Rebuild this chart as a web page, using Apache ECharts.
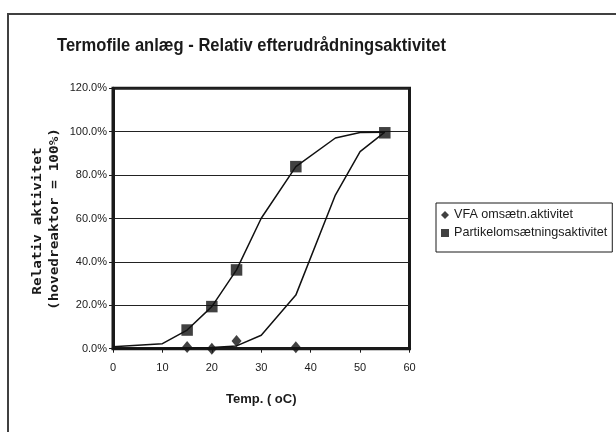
<!DOCTYPE html>
<html>
<head>
<meta charset="utf-8">
<script src="https://cdn.jsdelivr.net/npm/echarts@6/dist/echarts.min.js"></script>
<style>
  html, body { margin: 0; padding: 0; background: #fff; }
  #chart { width: 616px; height: 432px; }
</style>
</head>
<body>
<div id="chart"></div>
<script>
// Temperatures (°C) at which the two activity curves are defined
const curveTemps = [0, 10, 15, 20, 25, 30, 37, 45, 50, 55];
// Particle turnover curve (% of main reactor activity)
const partikelCurve = [0.9, 2.3, 8.6, 19.4, 36.3, 60.1, 83.9, 97.1, 99.6, 99.8];
// VFA turnover curve (% of main reactor activity)
const vfaCurve = [0, 0, 0.2, 0.6, 1.3, 6.2, 24.7, 70.8, 90.8, 99.8];

// Measured particle turnover activity
const partikelTemps = [15, 20, 25, 37, 55];
const partikelValues = [8.6, 19.4, 36.3, 83.9, 99.5];

// Measured VFA turnover activity
const vfaTemps = [15, 20, 25, 37];
const vfaValues = [0.8, 0, 3.5, 0.7];

// Axis ticks
const xTicks = [0, 10, 20, 30, 40, 50, 60];
const yTicks = [0, 20, 40, 60, 80, 100, 120];

const titleText = 'Termofile anlæg - Relativ efterudrådningsaktivitet';
const yNameLine1 = 'Relativ aktivitet';
const yNameLine2 = '(hovedreaktor = 100%)';
const xName = 'Temp. ( oC)';
const vfaName = 'VFA omsætn.aktivitet';
const partikelName = 'Partikelomsætningsaktivitet';

const pairs = (xs, ys) => xs.map((x, i) => [x, ys[i]]);
const FONT = 'Liberation Sans, Arial, sans-serif';

const chart = echarts.init(document.getElementById('chart'), null, { renderer: 'canvas' });

chart.setOption({
  animation: false,
  backgroundColor: '#fff',
  textStyle: { fontFamily: FONT },
  grid: {
    left: 113, right: 206.5, top: 88.3, bottom: 83.3,
    show: true, borderColor: '#1a1a1a', borderWidth: 3,
    containLabel: false
  },
  xAxis: {
    type: 'value',
    min: xTicks[0], max: xTicks[xTicks.length - 1], interval: 10,
    name: xName,
    nameLocation: 'middle',
    nameGap: 44,
    nameTextStyle: { fontFamily: FONT, fontWeight: 'bold', fontSize: 13, color: '#1a1a1a' },
    axisLine: { show: true, onZero: false, lineStyle: { color: '#1a1a1a', width: 3 } },
    axisTick: { show: true, inside: false, length: 4, lineStyle: { color: '#1a1a1a', width: 1 } },
    axisLabel: { fontFamily: FONT, fontSize: 11, color: '#1a1a1a', margin: 14 },
    splitLine: { show: false }
  },
  yAxis: {
    type: 'value',
    min: yTicks[0], max: yTicks[yTicks.length - 1], interval: 20,
    axisLine: { show: true, lineStyle: { color: '#1a1a1a', width: 3 } },
    axisTick: { show: true, inside: false, length: 4, lineStyle: { color: '#1a1a1a', width: 1 } },
    axisLabel: {
      fontFamily: FONT, fontSize: 11, color: '#1a1a1a', margin: 6,
      formatter: v => v.toFixed(1) + '%'
    },
    splitLine: { show: true, lineStyle: { color: '#222', width: 1 } }
  },
  legend: {
    orient: 'vertical',
    left: 436, top: 203,
    padding: [5, 5, 12, 5],
    itemGap: 4,
    itemWidth: 8, itemHeight: 8,
    borderColor: '#1a1a1a', borderWidth: 1,
    selectedMode: false,
    textStyle: { fontFamily: FONT, fontSize: 12.6, color: '#1a1a1a', lineHeight: 14 },
    data: [
      { name: vfaName, icon: 'diamond' },
      { name: partikelName, icon: 'rect' }
    ]
  },
  graphic: [
    {
      type: 'rect', silent: true, z: 0,
      shape: { x: 8, y: 14, width: 700, height: 500 },
      style: { fill: 'none', stroke: '#404040', lineWidth: 2 }
    },
    {
      type: 'text', silent: true,
      x: 57, y: 46, scaleX: 0.92,
      style: {
        text: titleText, fill: '#1a1a1a',
        font: 'bold 18px ' + FONT,
        align: 'left', verticalAlign: 'middle'
      }
    },
    {
      type: 'text', silent: true,
      x: 38, y: 221, rotation: Math.PI / 2, scaleX: 1.2, scaleY: 0.95,
      style: {
        text: yNameLine1, fill: '#1a1a1a',
        font: 'bold 12px DejaVu Sans Mono, monospace',
        align: 'center', verticalAlign: 'middle'
      }
    },
    {
      type: 'text', silent: true,
      x: 55, y: 219, rotation: Math.PI / 2, scaleX: 1.2, scaleY: 0.95,
      style: {
        text: yNameLine2, fill: '#1a1a1a',
        font: 'bold 12px DejaVu Sans Mono, monospace',
        align: 'center', verticalAlign: 'middle'
      }
    }
  ],
  series: [
    {
      name: 'partikelkurve', type: 'line',
      data: pairs(curveTemps, partikelCurve),
      showSymbol: false, symbol: 'none', smooth: false,
      lineStyle: { color: '#111', width: 1.5 },
      z: 2
    },
    {
      name: 'vfakurve', type: 'line',
      data: pairs(curveTemps, vfaCurve),
      showSymbol: false, symbol: 'none', smooth: false,
      lineStyle: { color: '#111', width: 1.5 },
      z: 2
    },
    {
      name: vfaName, type: 'scatter',
      data: pairs(vfaTemps, vfaValues),
      symbol: 'diamond', symbolSize: [10, 12],
      itemStyle: { color: '#111' },
      z: 3
    },
    {
      name: partikelName, type: 'scatter',
      data: pairs(partikelTemps, partikelValues),
      symbol: 'rect', symbolSize: 11.5,
      itemStyle: { color: '#111' },
      z: 3
    }
  ]
});
</script>
</body>
</html>
